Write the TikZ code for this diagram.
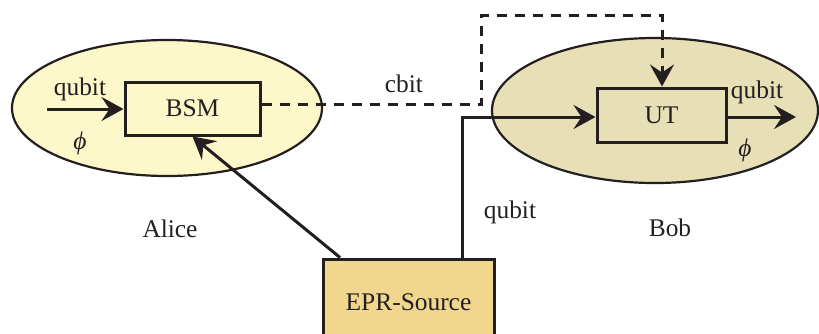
\documentclass[tikz,border=0pt]{standalone}
\usepackage{fontspec}
\setmainfont{Liberation Serif}
\usetikzlibrary{shapes.geometric,arrows.meta}
\definecolor{aliceFill}{HTML}{FDF8C9}
\definecolor{bobFill}{HTML}{E7E0B7}
\definecolor{eprFill}{HTML}{F1D68E}
\definecolor{ink}{HTML}{231F20}
\begin{document}
\begin{tikzpicture}[x=0.5pt,y=-0.5pt,
  every node/.style={font=\fontsize{12.7}{15}\selectfont, text=ink},
  region/.style={ellipse, draw=ink, line width=1.1pt, inner sep=0pt},
  unitbox/.style={rectangle, draw=ink, line width=1.5pt, inner sep=0pt},
  wire/.style={draw=ink, line width=1.5pt},
  tip/.style={-{Stealth[length=11pt,width=12pt,inset=4pt]}},
  classical/.style={wire, dash pattern=on 5pt off 4pt}]
\useasboundingbox (0,0) rectangle (819,333);

% parties
\node[region, fill=aliceFill, minimum width=155pt, minimum height=68pt] (alice) at (167,108) {};
\node[region, fill=bobFill, minimum width=163pt, minimum height=72.5pt] (bob) at (655,110.5) {};

% processing units
\node[unitbox, fill=aliceFill, minimum width=67.5pt, minimum height=26.5pt] (bsm) at (192.5,108.5) {BSM};
\node[unitbox, fill=bobFill, minimum width=64.5pt, minimum height=27pt] (ut) at (661.5,115) {UT};
\node[unitbox, fill=eprFill, minimum width=85.5pt, minimum height=43pt] (epr) at (408.5,302) {EPR-Source};

% helper points
\coordinate (qin) at (47,109);
\coordinate (qout) at (796,117);
\coordinate (c1) at (481,104);
\coordinate (c2) at (481,15);
\coordinate (c3) at (662,15);
\coordinate (q1) at (462,117);

% connections
\draw[wire, tip] (qin) -- (bsm.west |- qin);
\draw[wire, tip] (epr.north west -| 340,0) -- (bsm.south);
\draw[wire, tip] (epr.north -| q1) -- (q1) -- (ut.west |- q1);
\draw[wire, tip] (ut.east |- qout) -- (qout);
\draw[classical, tip] (bsm.east |- c1) -- (c1) -- (c2) -- (c3) -- (ut.north -| c3);

% labels
\node at (80,89) {qubit};
\node at (80,143) {\itshape ϕ};
\node at (404,84) {cbit};
\node at (170,229) {Alice};
\node at (670,228) {Bob};
\node at (510,212) {qubit};
\node at (757,92) {qubit};
\node at (745,150) {\itshape ϕ};
\end{tikzpicture}
\end{document}
